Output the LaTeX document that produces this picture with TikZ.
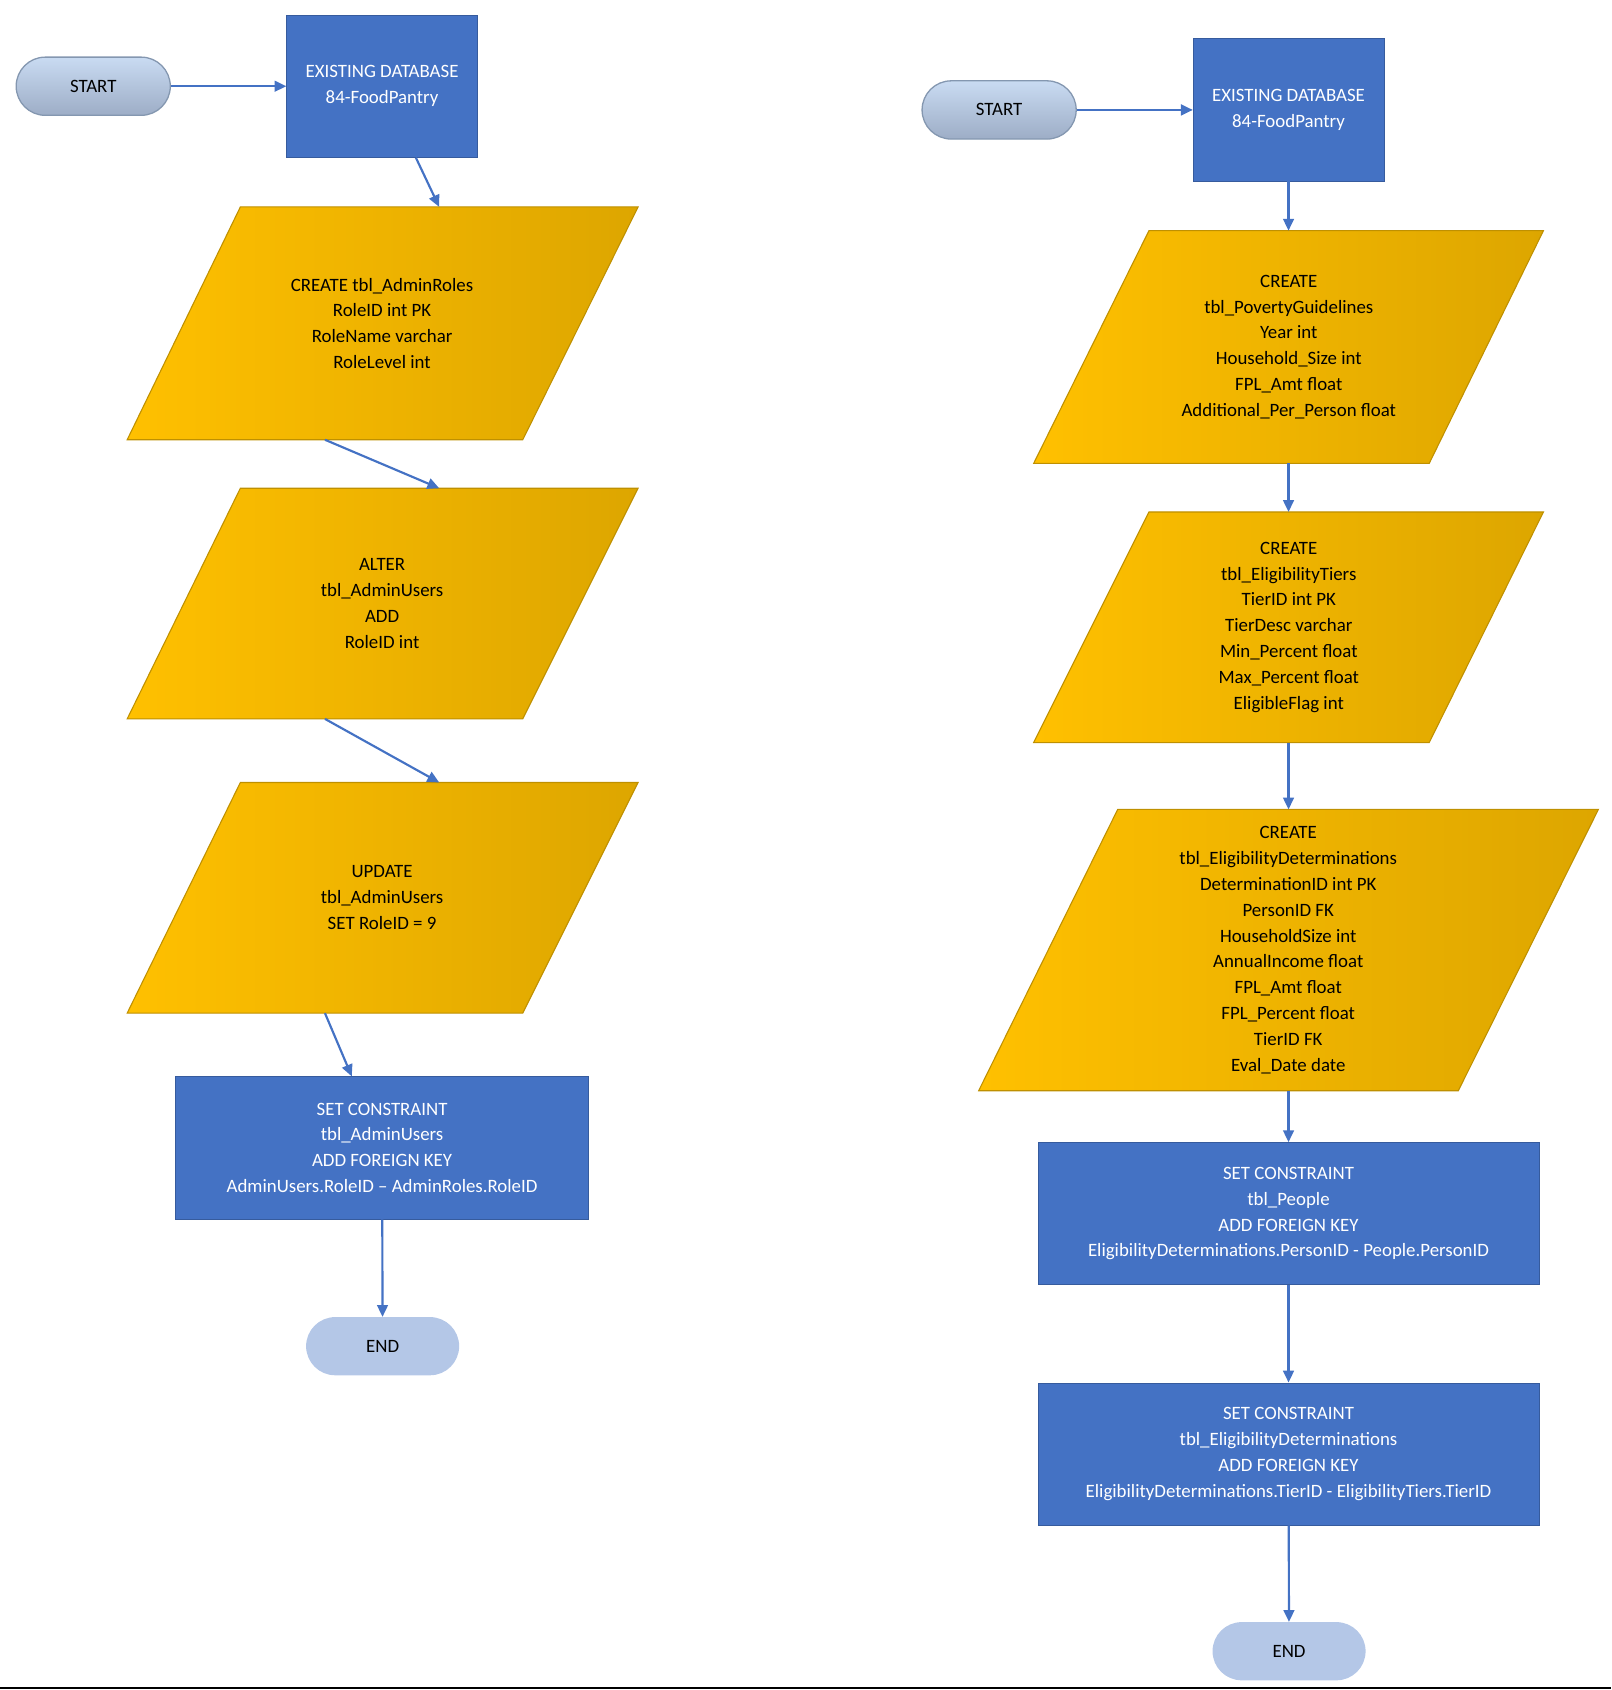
\documentclass[tikz,border=0pt]{standalone}
\usepackage{fontspec}
\setmainfont{Carlito}
\usetikzlibrary{arrows.meta}
\definecolor{bl}{HTML}{4472C4}
\definecolor{gold1}{HTML}{FFC000}
\definecolor{gold2}{HTML}{DDA600}
\definecolor{goldline}{HTML}{BF9000}
\definecolor{term1}{HTML}{C9DBF2}
\definecolor{term2}{HTML}{9DADC6}
\definecolor{termline}{HTML}{8497B0}
\definecolor{endc}{HTML}{B4C7E7}
\begin{document}
\begin{tikzpicture}[x=1pt,y=-1pt,
  txt/.style={font=\fontsize{17.5}{24}\selectfont,align=center,inner sep=0},
  box/.style={txt,draw=bl!80!black,line width=0.6pt,fill=bl,text=white,minimum width=#1,minimum height=132},
  start/.style={txt,draw=termline,line width=1.2pt,rounded corners=27,top color=term1,bottom color=term2,minimum width=143,minimum height=54},
  endn/.style={txt,fill=endc,rounded corners=27,minimum width=142,minimum height=54},
  ar/.style={draw=bl,line width=2pt,-{Triangle[length=11pt,width=10pt]}},
  para/.style={draw=goldline,line width=1pt,shading=axis,shading angle=135,left color=gold1,right color=gold2}]
\useasboundingbox (0,0) rectangle (1495,1568);
\draw[line width=2.5pt] (0,1566) -- (1495,1566);
\newcommand\pgram[8]{%
  \draw[para] (#2,#6) -- (#3,#6) -- (#5,#7) -- (#4,#7) -- cycle;
  \coordinate (#1t) at ({(#2+#3)/2},#6);
  \coordinate (#1b) at ({(#4+#5)/2},#7);
  \node[txt] (#1) at ({(#2+#3+#4+#5)/4},{(#6+#7)/2}) {#8};}
% left
\node[start] (s1) at (86.5,80) {START};
\node[box=177] (d1) at (354.5,80) {EXISTING DATABASE\\84-FoodPantry};
\pgram{p1}{223}{592}{118}{485}{192}{408}{CREATE tbl\_AdminRoles\\RoleID int PK\\RoleName varchar\\RoleLevel int}
\pgram{p2}{223}{592}{118}{485}{453}{667}{ALTER\\tbl\_AdminUsers\\ADD\\RoleID int}
\pgram{p3}{223}{592}{118}{485}{726}{940}{UPDATE\\tbl\_AdminUsers\\SET RoleID = 9}
\node[box=383] (c1) at (354.5,1065) {SET CONSTRAINT\\tbl\_AdminUsers\\ADD FOREIGN KEY\\AdminUsers.RoleID -- AdminRoles.RoleID};
\node[endn] (e1) at (355,1249) {END};
\draw[ar] (s1) -- (d1);
\draw[ar] (d1) -- (p1t);
\draw[ar] (p1b) -- (p2t);
\draw[ar] (p2b) -- (p3t);
\draw[ar] (p3b) -- (c1);
\draw[ar] (c1) -- (e1);
% right
\node[start] (s2) at (927,102) {START};
\node[box=177] (d2) at (1195.5,102) {EXISTING DATABASE\\84-FoodPantry};
\pgram{q1}{1066}{1432}{959}{1326}{214}{430}{CREATE\\tbl\_PovertyGuidelines\\Year int\\Household\_Size int\\FPL\_Amt float\\Additional\_Per\_Person float}
\pgram{q2}{1066}{1432}{959}{1326}{475}{689}{CREATE\\tbl\_EligibilityTiers\\TierID int PK\\TierDesc varchar\\Min\_Percent float\\Max\_Percent float\\EligibleFlag int}
\pgram{q3}{1037}{1483}{908}{1353}{751}{1012}{CREATE\\tbl\_EligibilityDeterminations\\DeterminationID int PK\\PersonID FK\\HouseholdSize int\\AnnualIncome float\\FPL\_Amt float\\FPL\_Percent float\\TierID FK\\Eval\_Date date}
\node[box=465] (c2) at (1195.5,1126) {SET CONSTRAINT\\tbl\_People\\ADD FOREIGN KEY\\EligibilityDeterminations.PersonID - People.PersonID};
\node[box=465] (c3) at (1195.5,1349) {SET CONSTRAINT\\tbl\_EligibilityDeterminations\\ADD FOREIGN KEY\\EligibilityDeterminations.TierID - EligibilityTiers.TierID};
\node[endn] (e2) at (1196,1532) {END};
\draw[ar] (s2) -- (d2);
\draw[ar] (d2) -- (d2 |- q1t);
\draw[ar] (d2 |- q1b) -- (d2 |- q2t);
\draw[ar] (d2 |- q2b) -- (d2 |- q3t);
\draw[ar] (d2 |- q3b) -- (c2);
\draw[ar] (c2) -- (c3);
\draw[ar] (c3) -- (e2);
\end{tikzpicture}
\end{document}
